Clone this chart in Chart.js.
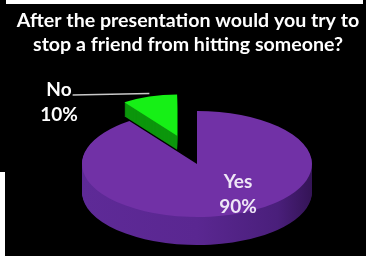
<!DOCTYPE html>
<html>
<head>
<meta charset="utf-8">
<script src="https://cdn.jsdelivr.net/npm/chart.js@4"></script>
<style>
  body { margin: 0; background: #000; }
  #wrap { position: relative; width: 366px; height: 256px; overflow: hidden; }
  .edge { position: absolute; background: #fff; }
</style>
</head>
<body>
<div id="wrap">
  <canvas id="chart" width="366" height="256"></canvas>
  <div class="edge" style="left:6px;top:0;width:357px;height:4px"></div>
  <div class="edge" style="left:0;top:172px;width:5px;height:84px"></div>
</div>
<script>
const categories = ['Yes', 'No'];
const values = [90, 10];
const titleLines = ['After the presentation would you try to', 'stop a friend from hitting someone?'];

// look of the tilted pie
const topColors = ['#7131a6', '#16f016'];
const sideColors = ['#5a2791', '#0c960c'];
const pie = { cx: 197, cy: 164, rx: 115, ry: 53 };
const depth = [28, 14];
const explode = [0, 0.56];
const shrink = [1, 0.78];
const drawOrder = [1, 0];
const labelAt = [[238, 188], [59, 96]];
const labelColors = ['#eee6f6', '#ffffff'];
const labelFont = 'bold 19px Lato';

function drawArcAs(el, ctx, fill) {
  const proxy = Object.create(el);
  proxy.options = Object.assign({}, el.options, { backgroundColor: fill });
  proxy.draw(ctx);
}

function sideFill(ctx, el, i) {
  if (i !== 0) return sideColors[i];
  const R = el.outerRadius;
  const g = ctx.createLinearGradient(el.x - R, 0, el.x + R, 0);
  g.addColorStop(0, '#5e2a97');
  g.addColorStop(0.5, sideColors[0]);
  g.addColorStop(0.85, '#4a1f7b');
  g.addColorStop(1, '#341456');
  return g;
}

function project(el, i, frac) {
  const mid = (el.startAngle + el.endAngle) / 2;
  const ex = pie.cx + Math.cos(mid) * explode[i] * pie.rx;
  const ey = pie.cy + Math.sin(mid) * explode[i] * pie.ry;
  return {
    ex, ey,
    x: ex + Math.cos(mid) * frac * shrink[i] * pie.rx,
    y: ey + Math.sin(mid) * frac * shrink[i] * pie.ry
  };
}

const pie3d = {
  id: 'pie3d',
  beforeDatasetsDraw(chart) {
    const ctx = chart.ctx;
    const meta = chart.getDatasetMeta(0);
    drawOrder.forEach(i => {
      const el = meta.data[i];
      const R = el.outerRadius;
      const p = project(el, i, 0);
      for (let d = depth[i]; d >= 0; d--) {
        ctx.save();
        ctx.translate(p.ex, p.ey + d);
        ctx.scale(pie.rx * shrink[i] / R, pie.ry * shrink[i] / R);
        ctx.translate(-el.x, -el.y);
        drawArcAs(el, ctx, d ? sideFill(ctx, el, i) : topColors[i]);
        ctx.restore();
      }
    });
    return false;
  },
  afterDraw(chart) {
    const ctx = chart.ctx;
    const meta = chart.getDatasetMeta(0);
    ctx.save();
    ctx.font = labelFont;
    ctx.textAlign = 'center';
    ctx.textBaseline = 'alphabetic';
    categories.forEach((c, i) => {
      const [x, y] = labelAt[i];
      ctx.fillStyle = labelColors[i];
      ctx.fillText(c, x, y);
      ctx.fillText(values[i] + '%', x, y + 25);
    });
    // leader line for the small slice
    const w = ctx.measureText(categories[1]).width;
    const tip = project(meta.data[1], 1, 1);
    ctx.strokeStyle = '#c8c8c8';
    ctx.lineWidth = 1.5;
    ctx.beginPath();
    ctx.moveTo(labelAt[1][0] + w / 2 + 1, labelAt[1][1] - 1);
    ctx.lineTo(tip.x, tip.y - 3);
    ctx.stroke();
    ctx.restore();
  }
};

new Chart(document.getElementById('chart'), {
  type: 'pie',
  plugins: [pie3d],
  data: {
    labels: categories,
    datasets: [{
      data: values,
      backgroundColor: topColors,
      borderWidth: 0
    }]
  },
  options: {
    responsive: false,
    animation: false,
    layout: { padding: { left: 10 } },
    plugins: {
      legend: { display: false },
      tooltip: { enabled: false },
      title: {
        display: true,
        text: titleLines,
        color: '#ffffff',
        font: { family: 'Lato', weight: 'bold', size: 19.6, lineHeight: 1.22 },
        padding: { top: 9, bottom: 0 }
      }
    }
  }
});
</script>
</body>
</html>
